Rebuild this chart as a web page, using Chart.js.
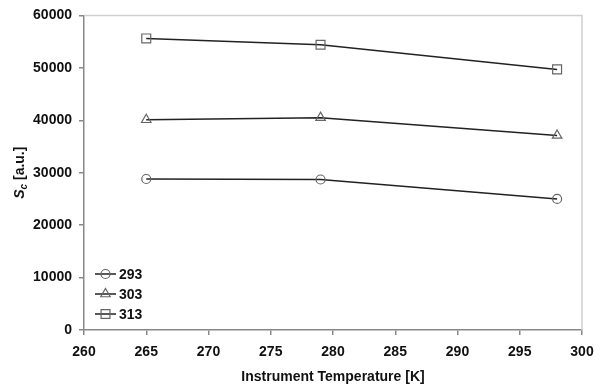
<!DOCTYPE html>
<html><head><meta charset="utf-8">
<script src="https://cdn.jsdelivr.net/npm/chart.js@4/dist/chart.umd.min.js"></script>
<style>html,body{margin:0;padding:0;background:#fff}#wrap{width:606px;height:390px}</style>
</head><body><div id="wrap"><canvas id="c" width="606" height="390"></canvas></div>
<script>
const temperatures = [265, 279, 298];
const s293 = [28800, 28700, 25000];
const s303 = [40100, 40500, 37100];
const s313 = [55600, 54400, 49700];
const seriesLabels = ['293', '303', '313'];
const xTicks = [260, 265, 270, 275, 280, 285, 290, 295, 300];
const yTicks = [0, 10000, 20000, 30000, 40000, 50000, 60000];

const FONT = '"Liberation Sans", Arial, sans-serif';
const styles = ['circle', 'triangle', 'rect'];
const radii = [4.5, 5.5, 6.3];
const series = [s293, s303, s313];

const datasets = series.map((vals, i) => ({
  label: seriesLabels[i],
  data: temperatures.map((t, j) => ({x: t, y: vals[j]})),
  showLine: true,
  borderColor: '#222',
  borderWidth: 1.5,
  pointStyle: styles[i],
  pointRadius: radii[i],
  pointBorderColor: '#666',
  pointBorderWidth: 1.2,
  pointBackgroundColor: 'rgba(255,255,255,0)',
  tension: 0
}));

const framePlugin = {
  id: 'frame',
  beforeDatasetsDraw(chart) {
    const {ctx, chartArea: a} = chart;
    ctx.save();
    ctx.strokeStyle = '#cfcfcf';
    ctx.lineWidth = 1.5;
    ctx.beginPath();
    ctx.moveTo(a.left, a.top);
    ctx.lineTo(a.right, a.top);
    ctx.lineTo(a.right, a.bottom);
    ctx.stroke();
    ctx.restore();
  },
  afterDraw(chart) {
    const {ctx, chartArea: a} = chart;
    ctx.save();
    // y axis title: S_c [a.u.]
    ctx.translate(20, (a.top + a.bottom) / 2);
    ctx.rotate(-Math.PI / 2);
    ctx.fillStyle = '#111';
    ctx.textBaseline = 'middle';
    const f1 = 'italic bold 14px ' + FONT;
    const f2 = 'italic bold 10px ' + FONT;
    const f3 = 'bold 14px ' + FONT;
    ctx.font = f1; const w1 = ctx.measureText('S').width;
    ctx.font = f2; const w2 = ctx.measureText('c').width;
    ctx.font = f3; const w3 = ctx.measureText(' [a.u.]').width;
    let x = -(w1 + w2 + w3) / 2;
    ctx.font = f1; ctx.fillText('S', x, 0); x += w1;
    ctx.font = f2; ctx.fillText('c', x, 4); x += w2;
    ctx.font = f3; ctx.fillText(' [a.u.]', x, 0);
    ctx.restore();

    // legend inside plot, bottom-left
    ctx.save();
    const lx = a.left + 11, ys = [274, 294, 314];
    chart.data.datasets.forEach((ds, i) => {
      const y = ys[i];
      ctx.strokeStyle = ds.borderColor;
      ctx.lineWidth = ds.borderWidth;
      ctx.beginPath(); ctx.moveTo(lx, y); ctx.lineTo(lx + 21, y); ctx.stroke();
      ctx.fillStyle = 'rgba(255,255,255,0)';
      ctx.strokeStyle = ds.pointBorderColor;
      ctx.lineWidth = ds.pointBorderWidth;
      Chart.helpers.drawPoint(ctx, {
        pointStyle: ds.pointStyle, radius: ds.pointRadius, borderWidth: ds.pointBorderWidth, rotation: 0
      }, lx + 10.5, y);
      ctx.fillStyle = '#111';
      ctx.font = 'bold 14px ' + FONT;
      ctx.textBaseline = 'middle';
      ctx.fillText(ds.label, lx + 24, y + 1);
    });
    ctx.restore();
  }
};

new Chart(document.getElementById('c'), {
  type: 'scatter',
  data: {datasets},
  plugins: [framePlugin],
  options: {
    responsive: false,
    animation: false,
    devicePixelRatio: 1,
    layout: {padding: {top: 9, right: 24, left: 0, bottom: 0}},
    plugins: {legend: {display: false}, tooltip: {enabled: false}},
    scales: {
      x: {
        type: 'linear', min: 260, max: 300,
        afterBuildTicks(s) { s.ticks = xTicks.map(v => ({value: v})); },
        afterFit(s) { s.height = 60; },
        grid: {drawOnChartArea: false, drawTicks: true, tickLength: 5, color: '#888', lineWidth: 1.5},
        border: {display: true, color: '#888', width: 1.5},
        ticks: {color: '#111', font: {family: FONT, size: 14, weight: 'bold'}, padding: 9, maxRotation: 0,
                callback: v => String(v)},
        title: {display: true, text: 'Instrument Temperature [K]', color: '#111',
                font: {family: FONT, size: 14, weight: 'bold'}, padding: {top: 0, bottom: 4}}
      },
      y: {
        type: 'linear', min: 0, max: 60000,
        afterBuildTicks(s) { s.ticks = yTicks.map(v => ({value: v})); },
        afterFit(s) { s.width = 84; },
        grid: {drawOnChartArea: false, drawTicks: true, tickLength: 5, color: '#888', lineWidth: 1.5},
        border: {display: true, color: '#888', width: 1.5},
        ticks: {color: '#111', font: {family: FONT, size: 14, weight: 'bold'}, padding: 7,
                callback: v => String(v)}
      }
    }
  }
});
</script></body></html>
